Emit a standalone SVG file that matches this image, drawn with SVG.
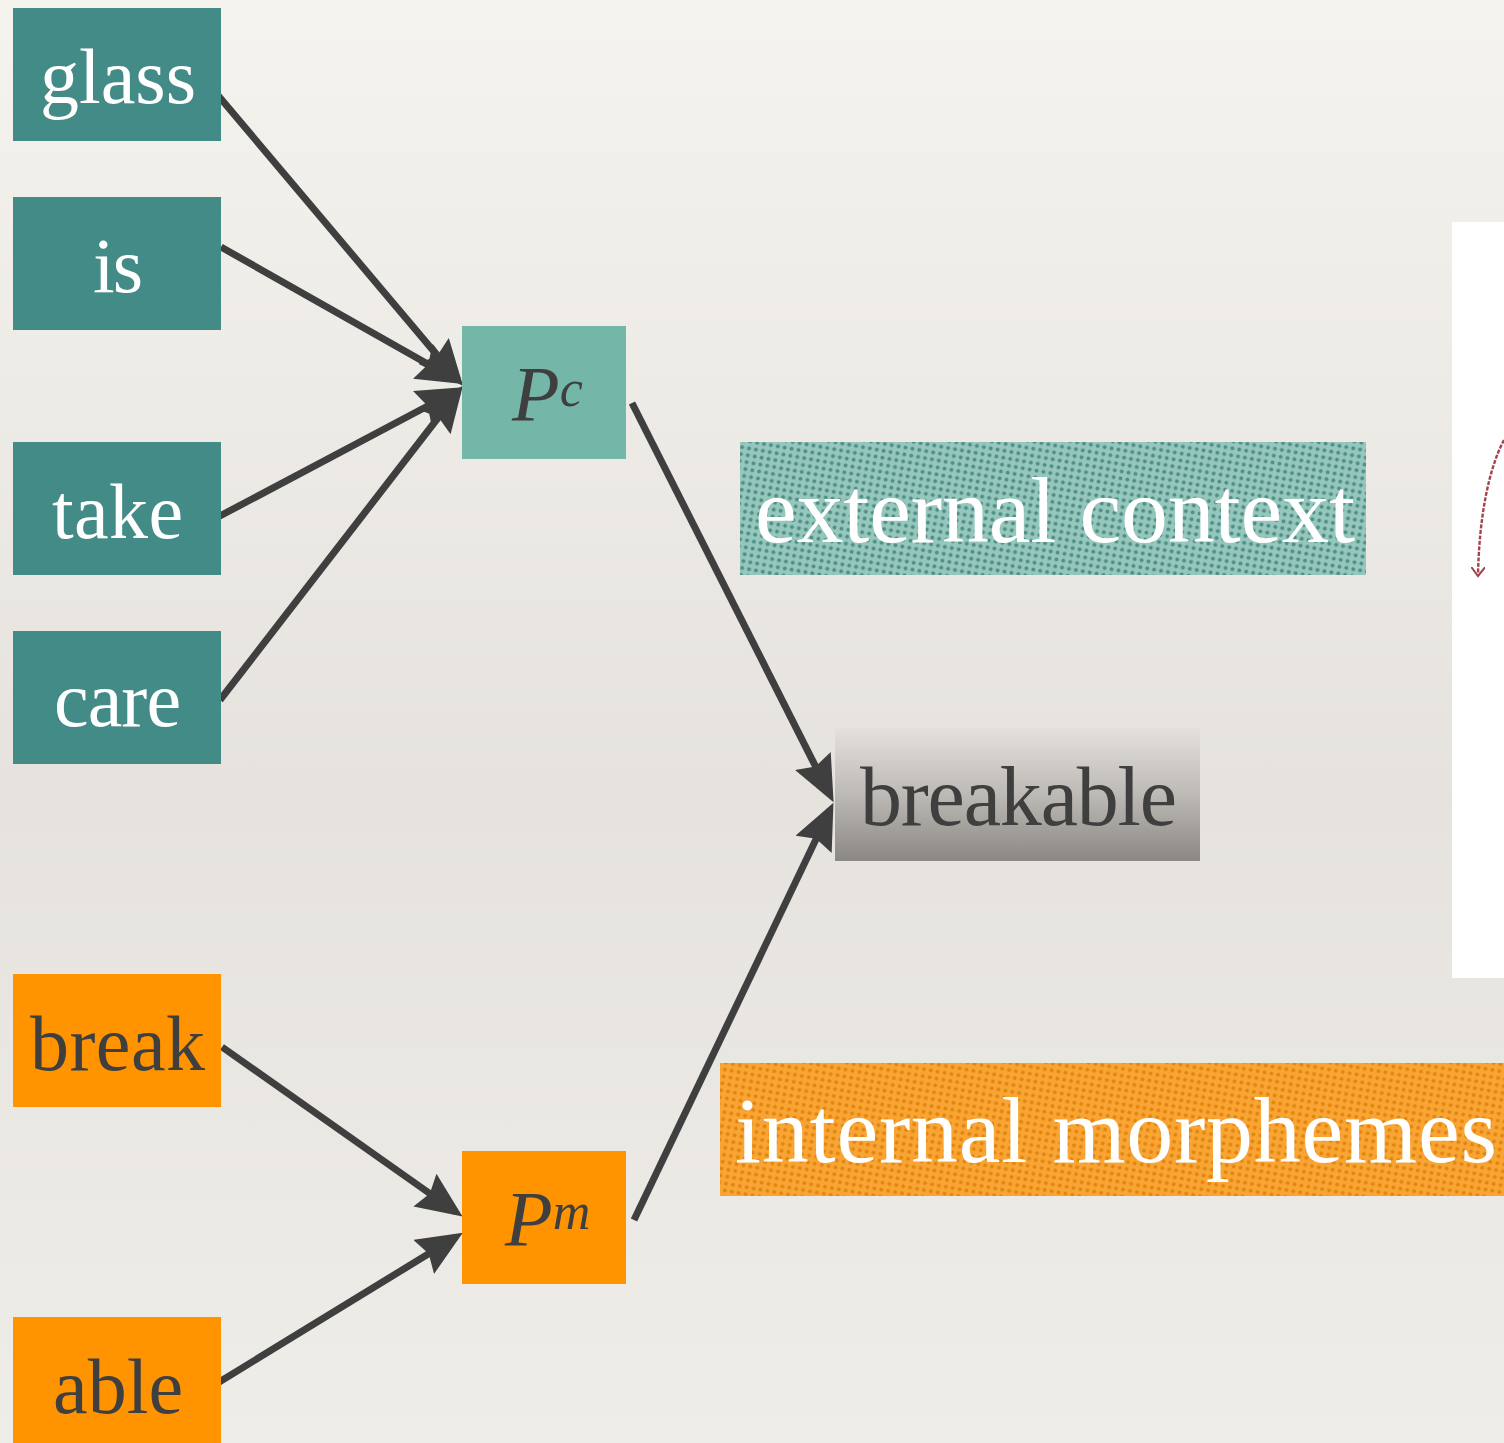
<svg xmlns="http://www.w3.org/2000/svg" width="1504" height="1443" viewBox="0 0 1504 1443">
<defs>
<linearGradient id="bg" x1="0" y1="0" x2="0" y2="1">
<stop offset="0" stop-color="#f5f3ee"/>
<stop offset="0.55" stop-color="#e6e3de"/>
<stop offset="1" stop-color="#efede8"/>
</linearGradient>
<linearGradient id="gray" x1="0" y1="0" x2="0" y2="1">
<stop offset="0" stop-color="#e4e1dc"/>
<stop offset="0.5" stop-color="#bdbab5"/>
<stop offset="1" stop-color="#8b8884"/>
</linearGradient>
<pattern id="dotTeal" width="7" height="7" patternUnits="userSpaceOnUse" patternTransform="rotate(10)">
<rect width="7" height="7" fill="#96c7bd"/>
<circle cx="3.5" cy="3.5" r="2" fill="#4f8f86"/>
</pattern>
<pattern id="dotOrange" width="7" height="7" patternUnits="userSpaceOnUse" patternTransform="rotate(10)">
<rect width="7" height="7" fill="#f9a535"/>
<circle cx="3.5" cy="3.5" r="2" fill="#e2860e"/>
</pattern>
<marker id="ah" markerUnits="userSpaceOnUse" markerWidth="50" markerHeight="44" refX="38" refY="20" orient="auto">
<path d="M0,0 L46,20 L0,40 L6,20 z" fill="#3f3f3f"/>
</marker>
<marker id="ar" markerUnits="userSpaceOnUse" markerWidth="18" markerHeight="14" refX="9" refY="7" orient="auto">
<path d="M0,0 L9,7 L0,14" fill="none" stroke="#a0454c" stroke-width="2"/>
</marker>
</defs>
<style>
.w{font-family:"Liberation Serif","DejaVu Serif",serif;fill:#ffffff}
.d{font-family:"Liberation Serif","DejaVu Serif",serif;fill:#3f3f3f}
.teal{fill:#438b86}
.orange{fill:#ff9400}
.conn{stroke:#3f3f3f;stroke-width:7;fill:none;marker-end:url(#ah)}
</style>
<rect width="1504" height="1443" fill="url(#bg)"/>

<g id="panel">
<rect x="1452" y="222" width="52" height="756" fill="#ffffff"/>
<path d="M1504,440 C1488,470 1479,520 1478,576" fill="none" stroke="#a0454c" stroke-width="2.4" stroke-dasharray="4,1.5" marker-end="url(#ar)"/>
</g>

<g id="connectors">
<line class="conn" x1="216" y1="93" x2="458" y2="380"/>
<line class="conn" x1="221" y1="247" x2="456" y2="380"/>
<line class="conn" x1="218" y1="517" x2="456" y2="391"/>
<line class="conn" x1="220" y1="700" x2="458" y2="392"/>
<line class="conn" x1="632" y1="403" x2="830" y2="795"/>
<line class="conn" x1="634" y1="1220" x2="830" y2="810"/>
<line class="conn" x1="222" y1="1047" x2="456" y2="1212"/>
<line class="conn" x1="216" y1="1384" x2="456" y2="1237"/>
</g>

<g id="node-glass"><rect class="teal" x="13" y="8" width="208" height="133"/><text class="w" x="40" y="103" font-size="78" textLength="156">glass</text></g>
<g id="node-is"><rect class="teal" x="13" y="197" width="208" height="133"/><text class="w" x="93" y="292" font-size="78" textLength="50">is</text></g>
<g id="node-take"><rect class="teal" x="13" y="442" width="208" height="133"/><text class="w" x="52" y="538" font-size="78" textLength="131">take</text></g>
<g id="node-care"><rect class="teal" x="13" y="631" width="208" height="133"/><text class="w" x="54" y="726" font-size="78" textLength="127">care</text></g>
<g id="node-break"><rect class="orange" x="13" y="974" width="208" height="133"/><text class="d" x="30" y="1070" font-size="78" textLength="175">break</text></g>
<g id="node-able"><rect class="orange" x="13" y="1317" width="208" height="130"/><text class="d" x="53" y="1413" font-size="78" textLength="130">able</text></g>

<g id="node-pc"><rect x="462" y="326" width="164" height="133" fill="#74b7a8"/><text class="d" x="512" y="420" font-size="78" font-style="italic">P<tspan font-size="52" dy="-14">c</tspan></text></g>
<g id="node-pm"><rect class="orange" x="462" y="1151" width="164" height="133"/><text class="d" x="505" y="1245" font-size="78" font-style="italic">P<tspan font-size="52" dy="-16">m</tspan></text></g>

<g id="node-breakable"><rect x="835" y="728" width="365" height="133" fill="url(#gray)"/><text class="d" x="860" y="825" font-size="84" textLength="317">breakable</text></g>

<g id="label-external"><rect x="740" y="442" width="626" height="133" fill="url(#dotTeal)"/><text class="w" x="755" y="542" font-size="94" textLength="600">external context</text></g>
<g id="label-internal"><rect x="720" y="1063" width="784" height="133" fill="url(#dotOrange)"/><text class="w" x="735" y="1162" font-size="94" textLength="762">internal morphemes</text></g>
</svg>
